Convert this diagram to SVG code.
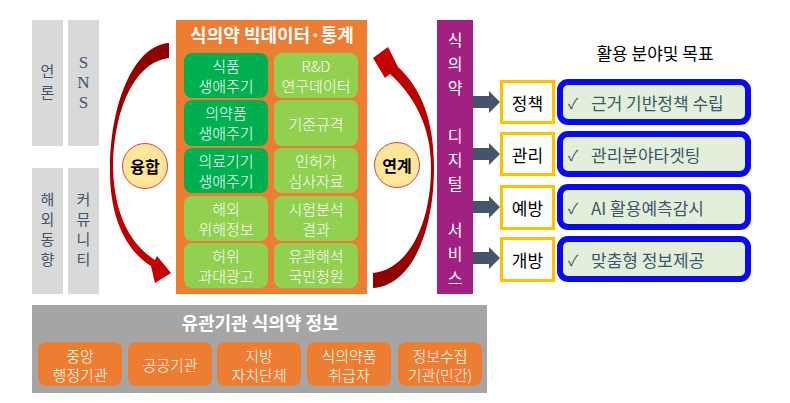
<svg xmlns="http://www.w3.org/2000/svg" width="790" height="403" viewBox="0 0 790 403">
<defs>
<style>
text{font-family:"Noto Sans CJK KR","Noto Sans",sans-serif;text-anchor:middle;dominant-baseline:central}
.src{fill:#D9D9D9}
.srct{fill:#44546A;font-size:15px}
.dg{fill:#00B050}
.lg{fill:#92D050}
.wt{fill:#FFFFFF;font-size:15px;font-weight:300}
.or{fill:#ED7D31}
.lab{fill:#FFFFFF;stroke:#FFC000;stroke-width:3}
.labt{fill:#000000;font-size:17px}
.goal{fill:#E2EFDA;stroke:#0A0AF0;stroke-width:6}
.goalt{fill:#44546A;font-size:17px;text-anchor:start}
.chk{fill:#44546A;font-size:15px;text-anchor:start}
.circ{fill:#FFE699;stroke:#E03C3C;stroke-width:1}
.circt{fill:#000000;font-size:16px;font-weight:bold}
.ar{fill:#44546A}
.pt{fill:#FFFFFF;font-size:16px}
</style>
<linearGradient id="gl" x1="0" y1="0" x2="0" y2="1">
<stop offset="0" stop-color="#8E0000"/><stop offset="1" stop-color="#C80000"/>
</linearGradient>
<linearGradient id="gr" x1="0" y1="1" x2="0" y2="0">
<stop offset="0" stop-color="#8E0000"/><stop offset="1" stop-color="#C80000"/>
</linearGradient>
</defs>
<rect width="790" height="403" fill="#FFFFFF"/>

<g id="src-media"><rect class="src" x="32" y="20" width="31" height="126"/><text class="srct" x="47.5" y="70">언</text><text class="srct" x="47.5" y="91">론</text></g>
<g id="src-sns"><rect class="src" x="68" y="20" width="31" height="126"/><text class="srct" x="83.5" y="62" style="font-family:'Liberation Serif',serif;font-size:17px">S</text><text class="srct" x="83.5" y="82" style="font-family:'Liberation Serif',serif;font-size:17px">N</text><text class="srct" x="83.5" y="102" style="font-family:'Liberation Serif',serif;font-size:17px">S</text></g>
<g id="src-overseas"><rect class="src" x="32" y="168" width="31" height="126"/><text class="srct" x="47.5" y="198">해</text><text class="srct" x="47.5" y="218">외</text><text class="srct" x="47.5" y="238">동</text><text class="srct" x="47.5" y="258">향</text></g>
<g id="src-community"><rect class="src" x="68" y="168" width="31" height="126"/><text class="srct" x="83.5" y="198">커</text><text class="srct" x="83.5" y="218">뮤</text><text class="srct" x="83.5" y="238">니</text><text class="srct" x="83.5" y="258">티</text></g>

<g id="connectors">
<path fill="url(#gl)" d="M169 43 C135 45 111 100 110 167 C109 215 125 250 151 266 L155 283 L171 273 L157 256 L155 260 C131 245 114 215 113 167 C114 108 135 62 169 58 Z"/>
<path fill="url(#gr)" d="M373 288 C410 286 434 235 434 167 C434 120 421 88 398 67 L388 47 L373 58 L385 78 L390 74 C413 95 431 125 431 167 C431 228 406 270 373 273 Z"/>
<path class="ar" d="M473 96 L489 96 L489 91 L500 102 L489 113 L489 108 L473 108 Z"/>
<path class="ar" d="M473 148 L489 148 L489 143 L500 154 L489 165 L489 160 L473 160 Z"/>
<path class="ar" d="M473 201 L489 201 L489 196 L500 207 L489 218 L489 213 L473 213 Z"/>
<path class="ar" d="M473 252 L489 252 L489 247 L500 258 L489 269 L489 264 L473 264 Z"/>
</g>

<g id="fusion"><circle class="circ" cx="145" cy="166" r="22.5"/><text class="circt" x="145" y="166">융합</text></g>
<g id="link"><circle class="circ" cx="397" cy="165" r="22.5"/><text class="circt" x="397" y="165">연계</text></g>

<g id="bigdata">
<rect x="176" y="20" width="191" height="274" fill="#ED7D31"/>
<text x="272" y="34" fill="#FFFFFF" font-size="18" font-weight="bold">식의약 빅데이터·통계</text>
</g>
<g id="bd-food"><rect class="dg" x="184" y="53" width="84" height="45" rx="8"/><text class="wt" x="226" y="65">식품</text><text class="wt" x="226" y="85">생애주기</text></g>
<g id="bd-rnd"><rect class="lg" x="274" y="53" width="84" height="45" rx="8"/><text class="wt" x="316" y="65">R&amp;D</text><text class="wt" x="316" y="85">연구데이터</text></g>
<g id="bd-drug"><rect class="dg" x="184" y="100" width="84" height="46" rx="8"/><text class="wt" x="226" y="112">의약품</text><text class="wt" x="226" y="132">생애주기</text></g>
<g id="bd-std"><rect class="lg" x="274" y="100" width="84" height="46" rx="8"/><text class="wt" x="316" y="123">기준규격</text></g>
<g id="bd-device"><rect class="dg" x="184" y="148" width="84" height="45" rx="8"/><text class="wt" x="226" y="160">의료기기</text><text class="wt" x="226" y="180">생애주기</text></g>
<g id="bd-permit"><rect class="lg" x="274" y="148" width="84" height="45" rx="8"/><text class="wt" x="316" y="160">인허가</text><text class="wt" x="316" y="180">심사자료</text></g>
<g id="bd-hazard"><rect class="lg" x="184" y="196" width="84" height="45" rx="8"/><text class="wt" x="226" y="208">해외</text><text class="wt" x="226" y="228">위해정보</text></g>
<g id="bd-test"><rect class="lg" x="274" y="196" width="84" height="45" rx="8"/><text class="wt" x="316" y="208">시험분석</text><text class="wt" x="316" y="228">결과</text></g>
<g id="bd-false"><rect class="lg" x="184" y="243" width="84" height="45" rx="8"/><text class="wt" x="226" y="255">허위</text><text class="wt" x="226" y="275">과대광고</text></g>
<g id="bd-petition"><rect class="lg" x="274" y="243" width="84" height="45" rx="8"/><text class="wt" x="316" y="255">유관해석</text><text class="wt" x="316" y="275">국민청원</text></g>

<g id="digital-service">
<rect x="437" y="20" width="36" height="274" fill="#A02182"/>
<text class="pt" x="455" y="39">식</text><text class="pt" x="455" y="63">의</text><text class="pt" x="455" y="87">약</text>
<text class="pt" x="455" y="135">디</text><text class="pt" x="455" y="159">지</text><text class="pt" x="455" y="183">털</text>
<text class="pt" x="455" y="229">서</text><text class="pt" x="455" y="253">비</text><text class="pt" x="455" y="277">스</text>
</g>

<g id="goal-title"><text x="655" y="52" fill="#000000" font-size="17">활용 분야및 목표</text></g>

<g id="policy"><rect class="lab" x="501.5" y="81.5" width="52" height="41"/><text class="labt" x="527.5" y="102">정책</text></g>
<g id="goal-policy"><rect class="goal" x="560" y="82" width="188" height="40" rx="8"/><text class="chk" x="568" y="102">✓</text><text class="goalt" x="591" y="102">근거 기반정책 수립</text></g>
<g id="manage"><rect class="lab" x="501.5" y="133.5" width="52" height="41"/><text class="labt" x="527.5" y="154">관리</text></g>
<g id="goal-manage"><rect class="goal" x="560" y="134" width="188" height="40" rx="8"/><text class="chk" x="568" y="154">✓</text><text class="goalt" x="591" y="154">관리분야타겟팅</text></g>
<g id="prevent"><rect class="lab" x="501.5" y="186.5" width="52" height="42"/><text class="labt" x="527.5" y="207">예방</text></g>
<g id="goal-prevent"><rect class="goal" x="560" y="187" width="188" height="40" rx="8"/><text class="chk" x="568" y="207">✓</text><text class="goalt" x="591" y="207">AI 활용예측감시</text></g>
<g id="open"><rect class="lab" x="501.5" y="238.5" width="52" height="42"/><text class="labt" x="527.5" y="259">개방</text></g>
<g id="goal-open"><rect class="goal" x="560" y="239" width="188" height="40" rx="8"/><text class="chk" x="568" y="259">✓</text><text class="goalt" x="591" y="259">맞춤형 정보제공</text></g>

<g id="related-info">
<rect x="32" y="305" width="455" height="88" fill="#A5A5A5"/>
<text x="260" y="322" fill="#FFFFFF" font-size="18" font-weight="bold">유관기관 식의약 정보</text>
</g>
<g id="ri-central"><rect class="or" x="38" y="342" width="84" height="44" rx="8"/><text class="wt" x="80" y="355">중앙</text><text class="wt" x="80" y="374">행정기관</text></g>
<g id="ri-public"><rect class="or" x="128" y="342" width="84" height="44" rx="8"/><text class="wt" x="170" y="364">공공기관</text></g>
<g id="ri-local"><rect class="or" x="217" y="342" width="84" height="44" rx="8"/><text class="wt" x="259" y="355">지방</text><text class="wt" x="259" y="374">자치단체</text></g>
<g id="ri-handler"><rect class="or" x="307" y="342" width="84" height="44" rx="8"/><text class="wt" x="349" y="355">식의약품</text><text class="wt" x="349" y="374">취급자</text></g>
<g id="ri-private"><rect class="or" x="398" y="342" width="84" height="44" rx="8"/><text class="wt" x="440" y="355">정보수집</text><text class="wt" x="440" y="374">기관(민간)</text></g>
</svg>
